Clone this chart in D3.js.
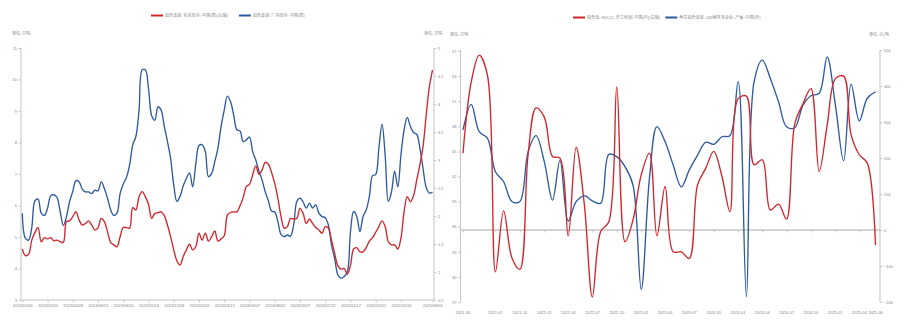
<!DOCTYPE html>
<html>
<head>
<meta charset="utf-8">
<script src="https://cdn.jsdelivr.net/npm/d3@7"></script>
<style>
  html, body { margin: 0; padding: 0; background: #fff; }
  svg { display: block; }
  .tick text { fill: #858585; font-family: "Liberation Sans", Arial, sans-serif; font-size: 4px; }
  .tick line { stroke: #bdbdbd; stroke-width: 0.8; }
  .domain { stroke: none; }
  .cjk { font-family: "Noto Sans CJK SC", sans-serif; fill: #858585; font-size: 4.1px; }
</style>
</head>
<body>
<svg id="chart" width="903" height="333"></svg>
<script>
// ---------- Weekly inventory panel ----------
const weekLabels = ["2023/01/06","2023/03/10","2023/04/28","2023/06/21","2023/08/16","2023/10/13",
  "2023/12/08","2024/02/02","2024/04/12","2024/06/07","2024/08/02","2024/09/27","2024/11/22",
  "2025/01/17","2025/03/21","2025/05/16","2025/08/01"];
const weekLabelIndex = [0,8,16,24,32,40,48,56,64,72,80,88,96,104,112,120,130];

// social inventory, 万吨 (left axis)
const socialStock = [4.62,4.41,4.45,4.90,5.14,5.30,4.85,4.98,4.94,4.98,4.88,4.90,4.85,4.83,5.49,5.52,5.65,5.80,5.54,5.38,
  5.43,5.51,5.38,5.22,5.30,5.59,5.49,5.17,4.83,4.75,4.69,5.01,5.30,5.30,5.28,5.93,5.86,6.28,6.44,6.28,
  6.04,5.59,5.75,5.77,5.80,5.68,5.38,5.01,4.59,4.24,4.11,4.38,4.59,4.77,4.59,4.70,5.12,4.90,5.12,4.87,
  5.01,5.19,4.87,4.94,5.04,
  5.70,5.78,5.80,5.80,5.99,6.25,6.60,6.67,6.97,7.26,6.99,7.13,7.37,7.31,7.05,6.70,6.23,5.65,5.28,5.33,
  5.59,5.57,5.59,5.91,5.75,5.43,5.57,5.43,5.30,5.22,5.12,5.33,5.28,4.90,4.48,4.09,3.98,4.00,3.82,4.10,
  4.62,4.66,4.53,4.53,4.67,4.87,4.98,5.15,5.33,5.51,5.33,4.85,4.75,4.75,4.62,4.96,5.80,6.28,6.12,6.31,
  6.81,7.29,7.87,8.87,9.77,10.30];

// in-plant inventory, 万吨 (right axis)
const plantStock = [2.05,1.60,1.57,1.79,2.27,2.30,2.05,2.01,2.14,2.36,2.38,2.33,2.08,1.83,1.99,2.26,2.44,2.63,2.61,2.48,
  2.43,2.43,2.40,2.46,2.45,2.61,2.49,2.32,2.11,2.01,2.05,2.40,2.57,2.69,2.91,3.27,3.42,3.89,4.61,4.61,
  4.28,3.79,3.71,3.95,3.89,3.60,3.33,3.03,2.55,2.26,2.35,2.54,2.67,2.77,2.52,2.94,3.26,3.27,3.15,2.70,
  2.76,2.97,3.21,3.60,3.89,
  4.14,4.04,3.80,3.54,3.52,3.33,3.36,3.41,3.15,3.00,2.80,2.64,2.43,2.27,2.09,2.07,1.90,1.67,1.63,1.66,
  1.64,1.84,2.26,2.32,2.25,2.14,2.23,2.14,2.20,2.05,1.99,1.97,1.84,1.48,1.24,0.95,0.89,0.92,1.00,1.72,
  2.08,1.99,1.72,1.99,2.11,2.35,2.72,2.74,3.21,3.64,3.09,2.26,2.43,2.80,2.52,3.09,3.54,3.76,3.60,3.49,
  3.46,3.21,2.85,2.51,2.41,2.42];

const leftTicksL = [3,4,5,6,7,8,9,10,11];
const leftTicksR = [0.5,1,1.5,2,2.5,3,3.5,4,4.5,5];

// ---------- Monthly panel ----------
const monthStart = "2021-03";
const monthLabels = ["2021-03","2021-07","2021-10","2022-01","2022-04","2022-07","2022-10","2023-01",
  "2023-04","2023-07","2023-10","2024-01","2024-04","2024-07","2024-10","2025-01","2025-04","2025-06"];

// ADC12, 万吨 (left axis), monthly from 2021-03
const adcSeries = [44.8,53.3,56.5,54.1,30.6,37.9,32.3,30.9,44.6,50.2,49.1,44.4,44.2,34.9,45.5,38.6,27.6,35.4,36.6,52.7,
  34.2,36.8,42.2,44.8,34.9,40.8,33.0,33.0,32.2,41.0,43.0,45.0,42.0,37.8,51.3,51.6,43.4,44.0,38.0,38.7,
  36.9,48.3,50.7,52.5,42.6,48.1,53.7,54.0,47.0,44.6,43.6,33.8];

// recycled alloy ingot, 元/吨 (right axis), monthly from 2021-03
const ingotSeries = [278,349,273,255,162,134,79,79,217,262,190,83,194,25,79,95,81,74,210,204,
  176,125,-165,144,287,245,181,120,167,208,244,238,259,262,412,-185,412,472,421,356,
  287,284,347,373,380,481,347,192,405,303,366,384];

const rightTicksL = [27,30,33,36,39,42,45,48,51,54,57];
const rightTicksR = [-200,-100,0,100,200,300,400,500];

const RED = "#d0262d", BLUE = "#2e5b9f", AXIS = "#c4c4c4";

const svg = d3.select("#chart");

function legend(g, x, y, items) {
  let cx = x;
  items.forEach(it => {
    g.append("line").attr("x1", cx).attr("x2", cx + 12).attr("y1", y).attr("y2", y)
      .attr("stroke", it.color).attr("stroke-width", 2);
    const t = g.append("text").attr("class", "cjk").attr("x", cx + 14).attr("y", y + 1.4).text(it.text);
    cx += 14 + t.node().getComputedTextLength() + it.gap;
  });
}

// ===== Panel 1 =====
{
  const g = svg.append("g");
  const x = d3.scaleLinear().domain([0, socialStock.length - 1]).range([22.3, 432.5]);
  const yL = d3.scaleLinear().domain([3, 11]).range([300, 48]);
  const yR = d3.scaleLinear().domain([0.5, 5]).range([300, 48]);

  // axis lines
  g.append("line").attr("x1", 21).attr("x2", 21).attr("y1", 48).attr("y2", 300).attr("stroke", AXIS);
  g.append("line").attr("x1", 434).attr("x2", 434).attr("y1", 48).attr("y2", 300).attr("stroke", AXIS);
  g.append("line").attr("x1", 21).attr("x2", 434).attr("y1", 300).attr("y2", 300).attr("stroke", AXIS);

  g.append("g").attr("transform", "translate(21,0)")
    .call(d3.axisLeft(yL).tickValues(leftTicksL).tickSize(2.5).tickSizeOuter(0).tickPadding(1.5));
  g.append("g").attr("transform", "translate(434,0)")
    .call(d3.axisRight(yR).tickValues(leftTicksR).tickSize(2.5).tickSizeOuter(0).tickPadding(1.5)
      .tickFormat(d3.format("~g")));
  g.append("g").attr("transform", "translate(0,300)")
    .call(d3.axisBottom(x).tickValues(weekLabelIndex).tickSize(2.5).tickSizeOuter(0).tickPadding(2)
      .tickFormat((d, i) => weekLabels[i]));

  const curve = d3.curveCatmullRom.alpha(0.5);
  g.append("path").datum(plantStock)
    .attr("d", d3.line().x((d, i) => x(i)).y(d => yR(d)).curve(curve))
    .attr("fill", "none").attr("stroke", BLUE).attr("stroke-width", 1.35);
  g.append("path").datum(socialStock)
    .attr("d", d3.line().x((d, i) => x(i)).y(d => yL(d)).curve(curve))
    .attr("fill", "none").attr("stroke", RED).attr("stroke-width", 1.35);

  g.append("text").attr("class", "cjk").attr("x", 12).attr("y", 34.5).text("单位: 万吨");
  g.append("text").attr("class", "cjk").attr("x", 424).attr("y", 34.5).text("单位: 万吨");

  legend(g, 151, 15.5, [
    { color: RED, text: "铝合金锭: 社会库存: 中国(周)(左轴)", gap: 11 },
    { color: BLUE, text: "铝合金锭: 厂内库存: 中国(周)", gap: 0 }
  ]);
}

// ===== Panel 2 =====
{
  const g = svg.append("g");
  const parse = d3.timeParse("%Y-%m");
  const t0 = parse(monthStart);
  const dates = adcSeries.map((d, i) => d3.timeMonth.offset(t0, i));
  const x = d3.scaleTime().domain([t0, dates[dates.length - 1]]).range([463, 875.5]);
  const yL = d3.scaleLinear().domain([27, 57]).range([302, 51]);
  const yR = d3.scaleLinear().domain([-200, 500]).range([302, 50]);
  const y0 = yR(0);

  g.append("line").attr("x1", 460.5).attr("x2", 460.5).attr("y1", 50).attr("y2", 302).attr("stroke", AXIS);
  g.append("line").attr("x1", 880).attr("x2", 880).attr("y1", 50).attr("y2", 302).attr("stroke", AXIS);
  g.append("line").attr("x1", 460.5).attr("x2", 880).attr("y1", y0).attr("y2", y0)
    .attr("stroke", "#a8a8a8").attr("stroke-width", 1);

  g.append("g").attr("transform", "translate(460.5,0)")
    .call(d3.axisLeft(yL).tickValues(rightTicksL).tickSize(2.5).tickSizeOuter(0).tickPadding(1.5));
  g.append("g").attr("transform", "translate(880,0)")
    .call(d3.axisRight(yR).tickValues(rightTicksR).tickSize(2.5).tickSizeOuter(0).tickPadding(1.5));

  const labelDates = monthLabels.map(parse);
  // tick marks along the zero line, month labels along the bottom
  g.append("g").attr("transform", `translate(0,${y0})`)
    .call(d3.axisBottom(x).tickValues(labelDates).tickSize(2.5).tickSizeOuter(0).tickFormat(""));
  g.append("g").selectAll("text").data(monthLabels).join("text")
    .attr("x", d => x(parse(d))).attr("y", 313.5)
    .attr("text-anchor", "middle")
    .style("fill", "#858585").style("font-family", "Liberation Sans, Arial, sans-serif").style("font-size", "4px")
    .text(d => d);

  const curve = d3.curveCatmullRom.alpha(0.5);
  g.append("path").datum(ingotSeries)
    .attr("d", d3.line().x((d, i) => x(dates[i])).y(d => yR(d)).curve(curve))
    .attr("fill", "none").attr("stroke", BLUE).attr("stroke-width", 1.35);
  g.append("path").datum(adcSeries)
    .attr("d", d3.line().x((d, i) => x(dates[i])).y(d => yL(d)).curve(curve))
    .attr("fill", "none").attr("stroke", RED).attr("stroke-width", 1.35);

  g.append("text").attr("class", "cjk").attr("x", 450).attr("y", 36).text("单位: 万吨");
  g.append("text").attr("class", "cjk").attr("x", 869).attr("y", 36).text("单位: 元/吨");

  legend(g, 573, 17.5, [
    { color: RED, text: "铝合金: ADC12: 开工利润: 中国(月)(左轴)", gap: 5 },
    { color: BLUE, text: "再生铝合金锭: 100家样本企业: 产量: 中国(月)", gap: 0 }
  ]);
}
</script>
</body>
</html>
